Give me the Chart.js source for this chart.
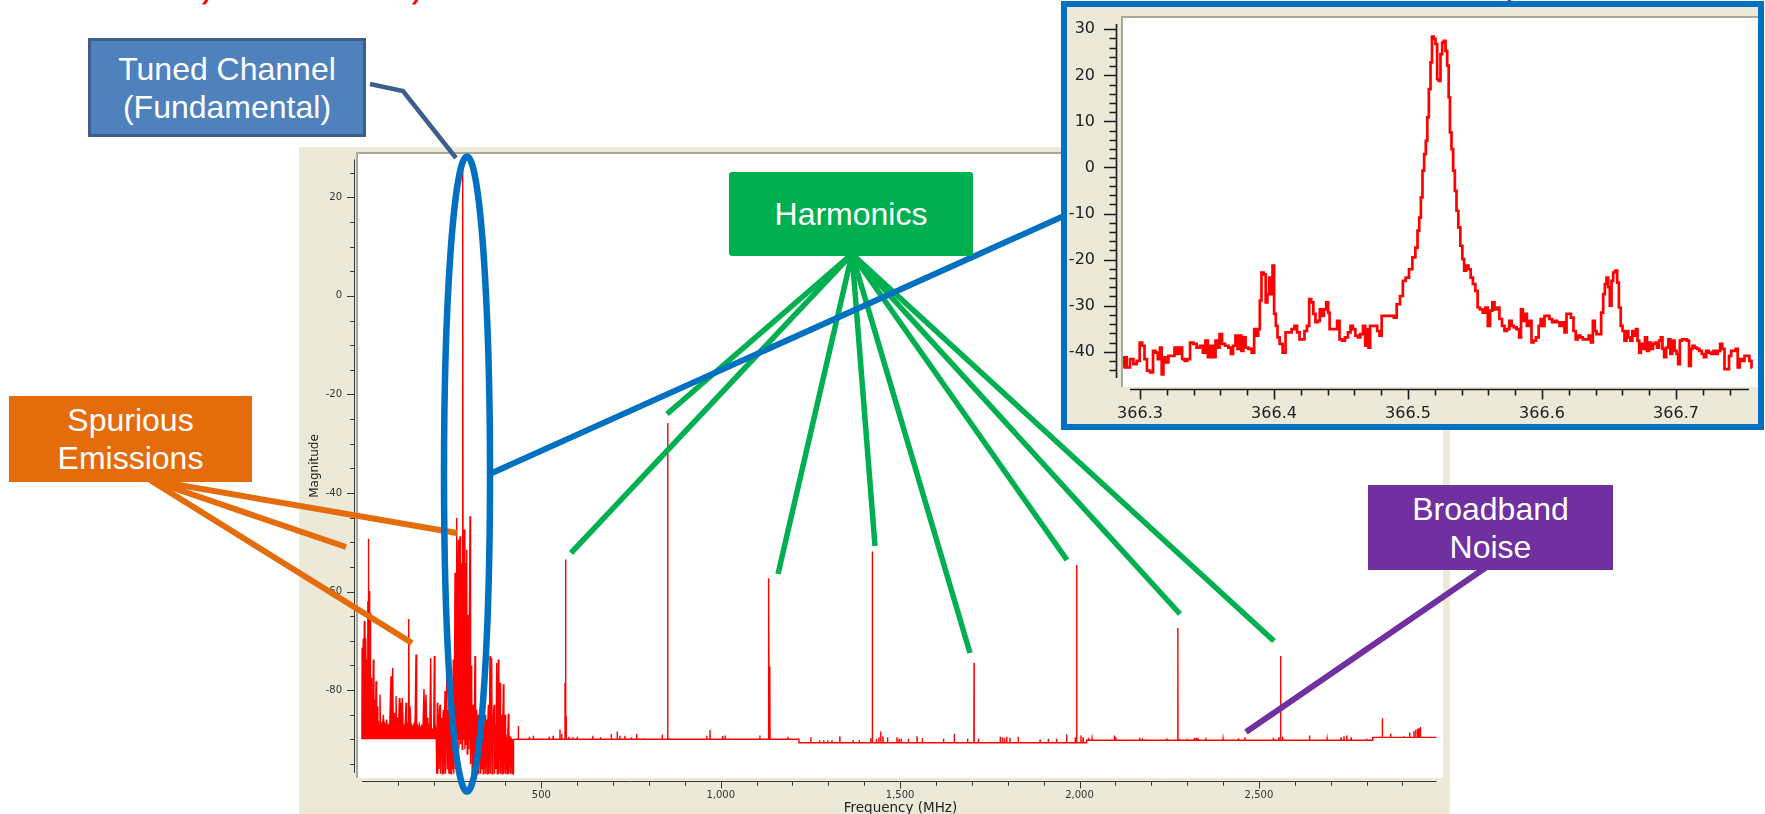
<!DOCTYPE html>
<html><head><meta charset="utf-8">
<script src="https://cdn.jsdelivr.net/npm/chart.js@4.4.1/dist/chart.umd.min.js"></script>
<style>
html,body{margin:0;padding:0;overflow:hidden;}
body{width:1765px;height:814px;position:relative;background:#fff;font-family:"Liberation Sans",Arial,sans-serif;}
#mainPanel{position:absolute;left:299px;top:147px;width:1151px;height:672px;background:#ECE9D8;z-index:1;}
#mainPanel canvas{position:absolute;left:0;top:0;}
#ann{position:absolute;left:0;top:0;z-index:2;}
.box{position:absolute;display:flex;flex-direction:column;align-items:center;justify-content:center;color:#fff;font-size:32px;line-height:38px;text-align:center;box-sizing:border-box;z-index:3;white-space:nowrap;}
#inset{position:absolute;left:1061px;top:1px;width:703px;height:429px;border:6px solid #0070C0;box-sizing:border-box;background:#ECE9D8;z-index:4;}
#inset canvas{position:absolute;left:0;top:0;}
</style></head><body>

<div id="mainPanel"><canvas id="mainC" width="1151" height="672"></canvas></div>

<svg id="ann" width="1765" height="814" xmlns="http://www.w3.org/2000/svg">
  <g fill="#FF0000">
    <polygon points="205,0 208.5,0 205.5,4.5 202,4.5"/>
    <polygon points="415,0 418.5,0 415.5,4.5 412,4.5"/>
    <polygon points="1508,0 1511,0 1510,2 1507,2"/>
  </g>
  <polyline points="370,84 403,91 456,158" stroke="#3B5E8C" stroke-width="4.5" fill="none"/>
  <g stroke="#00B050" stroke-width="5.5" fill="none">
    <line x1="852" y1="254" x2="571" y2="553"/>
    <line x1="852" y1="254" x2="667" y2="414"/>
    <line x1="852" y1="254" x2="778" y2="574"/>
    <line x1="852" y1="254" x2="875" y2="546"/>
    <line x1="852" y1="254" x2="970" y2="653"/>
    <line x1="852" y1="254" x2="1067" y2="560"/>
    <line x1="852" y1="254" x2="1180" y2="614"/>
    <line x1="852" y1="254" x2="1274" y2="641"/>
  </g>
  <g stroke="#E46C0A" stroke-width="6" fill="none">
    <line x1="150" y1="480" x2="457" y2="533"/>
    <line x1="150" y1="480" x2="346" y2="547"/>
    <line x1="150" y1="480" x2="412" y2="643"/>
  </g>
  <line x1="1488" y1="566" x2="1246" y2="732" stroke="#7030A0" stroke-width="6"/>
  <ellipse cx="467" cy="474" rx="23" ry="317.5" stroke="#0070C0" stroke-width="6.5" fill="none"/>
  <line x1="492" y1="473" x2="1066" y2="215" stroke="#0070C0" stroke-width="6"/>
</svg>

<div class="box" style="left:88px;top:38px;width:278px;height:99px;background:#4F81BD;border:3px solid #3B5E8C;"><div>Tuned Channel</div><div>(Fundamental)</div></div>
<div class="box" style="left:729px;top:172px;width:244px;height:84px;background:#00B050;border-radius:3px;"><div>Harmonics</div></div>
<div class="box" style="left:9px;top:396px;width:243px;height:86px;background:#E46C0A;"><div>Spurious</div><div>Emissions</div></div>
<div class="box" style="left:1368px;top:485px;width:245px;height:85px;background:#7030A0;"><div>Broadband</div><div>Noise</div></div>

<div id="inset"><canvas id="insetC" width="691" height="417"></canvas></div>

<script>
// ---------------- DATA ----------------
// Main spectrum, 0-208 MHz: spurious emissions above a ~-88 dB floor  [MHz, dB]
const spurTrace = [[0,-90],[0.5,-71.4],[2,-74],[4,-69.6],[5.5,-76],[6.8,-66.0],[8.5,-75],[10.5,-69.4],[12,-78],[13.3,-73.8],[15,-80],[16.5,-62],[17.3,-72],[18,-49.3],[19,-74],[20.7,-59.9],[21.6,-76],[22.6,-64.3],[24,-80],[25.4,-77.5],[27,-84],[29,-81.9],[30.5,-85],[31.9,-73.8],[33.5,-86],[36.5,-81.9],[38,-86],[39.3,-78.2],[41,-87],[43,-83.3],[44.5,-87.5],[45.8,-86.3],[48,-88],[50.4,-80.9],[52,-88],[55.1,-87.0],[57,-88],[59.7,-85.0],[62,-88],[64.4,-87.0],[67,-88.3],[69,-86.0],[71,-88.3],[73.7,-87.3],[77,-88.3],[81.1,-77.2],[83,-88],[85.8,-75.5],[87.5,-88],[90.4,-84.6],[92.5,-88],[95,-81.2],[97,-88],[99.7,-85.6],[102,-88],[104.3,-81.6],[106,-88],[108,-82.6],[110,-88],[112.7,-81.6],[115,-88],[117.3,-87.0],[120,-88],[122.9,-82.6],[125,-88],[126.6,-87.0],[128.5,-88],[130.3,-65.6],[132,-88],[134,-83.3],[137,-88],[139.6,-87.3],[142,-88],[145.2,-87.0],[148,-88],[150.8,-72.8],[152.5,-88],[154.5,-87.3],[157,-88.3],[160,-87.0],[163,-88.3],[166.6,-87.3],[170,-88.3],[173,-79.8],[175,-88],[178.6,-80.9],[180.5,-88],[182.4,-85.6],[184,-88],[186,-87.3],[189,-88.3],[191.7,-73.5],[193.5,-88.5],[197.2,-88.0],[200,-88.5],[201.9,-73.1],[203.5,-88.5],[204.7,-87.3],[207,-88.5],[208.2,-90]];
// Main spectrum, 208-423 MHz: dense band around the tuned channel  [MHz, dB]
const fundTrace = [[209,-97],[210,-82.6],[211.5,-97],[213,-85],[214.5,-96],[216,-84],[217.7,-83],[219,-97],[220.5,-86],[222.3,-85.6],[224,-97],[225.5,-86],[227,-84],[228.5,-97],[230,-87],[231.6,-80.2],[233,-97],[234.5,-86],[236.3,-73.8],[238,-96],[239.5,-87],[240.9,-84],[242.3,-97],[243.7,-82],[245.5,-97],[247.4,-86],[248.8,-97],[250.2,-84.6],[251.5,-96],[253,-85],[254.8,-73.8],[256.2,-97],[257.8,-80],[259.5,-56.2],[261,-96],[262.5,-70],[264.1,-45.1],[265.5,-90],[267,-62],[268.8,-49.5],[270.2,-92],[271.8,-60],[273.4,-48.8],[275,-91],[276.5,-66],[278.1,-54.2],[279.5,-92],[280.9,28],[282.3,-90],[284,-70],[285.5,-47.4],[287,-92],[289.2,-54.2],[290.5,-91],[292,-51.5],[293.5,-93],[295,-70],[296.6,-64.7],[298,-92],[299.5,-66],[301.3,-44.7],[302.8,-95],[304.3,-75],[305.9,-79.2],[307.3,-97],[309,-84],[310.6,-83],[312,-97],[313.6,-85],[315.2,-73.1],[316.8,-97],[318.3,-85],[319.9,-84],[321.4,-97],[323,-86],[324.5,-85],[326,-97],[327.6,-87],[329.2,-86.7],[331,-97],[333,-87],[334.8,-96],[336.6,-83],[338.3,-97],[340,-87],[341.5,-96],[343.1,-85],[344.7,-97],[346.2,-87],[347.7,-86],[349.3,-97],[350.8,-87],[352.4,-83],[354,-97],[355.5,-86],[357,-73.1],[358.5,-97],[360,-85],[361.7,-73.5],[363.3,-97],[365,-87],[366.6,-85],[368.2,-83],[369.8,-97],[371.5,-87],[373.5,-96],[375.6,-74.5],[377.2,-97],[378.7,-86],[380.2,-73.8],[381.8,-97],[383.3,-87],[384.9,-78.5],[386.5,-97],[388,-88],[389.5,-85],[391,-97],[392.6,-88],[394.2,-78.8],[395.8,-97],[397.3,-88],[398.8,-85],[400.4,-97],[402,-89],[403.5,-89],[405,-97],[406.6,-89],[408.1,-84.8],[409.7,-97],[411.2,-89.5],[412.8,-89.5],[414.3,-97],[415.9,-89.7],[417.4,-89.7],[419,-97],[420.5,-90],[422,-97],[422.5,-90]];
// Noise floor above 423 MHz: [start MHz, end MHz, level dB]
const floorSegments = [[422.5,1218,-90.0],[1218,2020,-90.7],[2020,2817,-90.2],[2817,2995,-89.6]];
// Harmonics of the tuned channel
const harmFreq = [567.8, 852.3, 1134.5, 1422.6, 1706, 1992, 2274, 2560.6, 2844];
const harmMag  = [-53.5, -25.8, -57.3, -51.9, -74.5, -54.6, -67.4, -73.1, -85.7];
// Small spurs on the broadband noise floor  [MHz, dB]
const noiseSpurs = [[436,-87.3],[466.6,-89.5],[477.7,-89.3],[522,-89.5],[533,-89.3],[552,-88.0],[556.8,-88.9],[566,-78.5],[569,-85.2],[577,-89.5],[588,-89.6],[600,-89.5],[643.7,-89.3],[665,-89.6],[695,-88.9],[711.5,-88.4],[719,-89.3],[733,-89.3],[751,-89.6],[765.5,-88.9],[788,-89.8],[837,-89.0],[857,-89.8],[961,-89.3],[970,-88.1],[1005,-89.3],[1012.6,-89.2],[1109,-89.2],[1132.4,-84.4],[1137,-75.2],[1187,-89.5],
 [1251,-89.6],[1276,-90.2],[1287,-90.2],[1298,-90.2],[1310,-90.2],[1332,-89.4],[1369,-90.2],[1386,-90.2],[1418,-89.8],[1434,-89.9],[1441,-89.6],[1446,-88.4],[1452,-89.4],[1465,-89.6],[1491,-89.6],[1497,-89.9],[1503,-89.9],[1523,-89.9],[1547,-89.4],[1562,-89.8],[1621,-89.9],[1651,-88.9],[1688,-89.9],[1718,-89.9],[1779,-89.5],[1785,-89.6],[1791,-89.8],[1797,-89.5],[1806,-89.7],[1829,-89.5],[1890,-90.1],[1913,-89.9],[1936,-89.9],[1964,-89.0],[1988,-89.6],[2004,-89.2],[2010,-89.6],
 [2025,-89.7],[2035,-89.9],[2097,-89.2],[2101,-89.6],[2168,-89.7],[2175,-89.8],[2243,-89.8],[2279,-89.9],[2299,-89.9],[2320,-89.7],[2325,-89.7],[2330,-89.7],[2352,-89.7],[2400,-89.9],[2443,-89.8],[2461,-89.6],[2540,-89.7],[2556,-89.6],[2566,-89.5],[2641,-89.2],[2690,-89.9],[2729,-89.6],[2737,-89.4],[2745,-89.2],[2757,-89.6],[2800,-89.9],
 [2867,-88.8],[2905,-89.4],[2920,-88.6],[2932,-88.3],[2937,-88.0],[2942,-87.9],[2946,-87.7],[2950,-87.5]];
// Inset: zoom on the tuned channel  [MHz, dB]
const insetTrace = [[366.2876,-43.4],[366.2888,-41.2],[366.2913,-43.4],[366.2938,-41.6],[366.2963,-42.7],[366.2988,-42.0],[366.3007,-38.0],[366.3025,-38.7],[366.3042,-41.6],[366.3062,-44.1],[366.3087,-44.5],[366.3107,-39.8],[366.3124,-40.2],[366.3142,-41.6],[366.3157,-39.1],[366.3167,-44.9],[366.3182,-41.2],[366.3199,-42.3],[366.3224,-40.9],[366.3249,-40.9],[366.3266,-39.1],[366.3286,-40.5],[366.3306,-39.1],[366.3323,-41.6],[366.3343,-42.0],[366.3361,-41.6],[366.3386,-38.0],[366.3410,-38.3],[366.3435,-39.1],[366.3460,-38.7],[366.3478,-40.2],[366.3498,-37.6],[366.3515,-41.2],[366.3535,-38.7],[366.3555,-41.2],[366.3572,-37.6],[366.3585,-39.1],[366.3602,-36.2],[366.3622,-38.3],[366.3647,-38.7],[366.3672,-39.1],[366.3684,-40.5],[366.3704,-38.7],[366.3721,-36.5],[366.3734,-39.4],[366.3749,-36.5],[366.3764,-39.8],[366.3779,-36.9],[366.3796,-39.1],[366.3821,-39.4],[366.3846,-40.2],[366.3858,-35.1],[366.3876,-36.5],[366.3888,-35.1],[366.3900,-28.9],[366.3913,-22.8],[366.3933,-23.2],[366.3943,-29.3],[366.3958,-27.5],[366.3970,-23.9],[366.3983,-27.5],[366.3995,-21.3],[366.4007,-31.8],[366.4020,-34.4],[366.4032,-36.9],[366.4052,-38.3],[366.4077,-40.2],[366.4095,-35.8],[366.4119,-35.8],[366.4144,-35.1],[366.4162,-34.4],[366.4182,-35.8],[366.4199,-37.3],[366.4219,-37.3],[366.4236,-35.5],[366.4256,-34.4],[366.4269,-28.6],[366.4286,-29.3],[366.4301,-31.8],[366.4318,-33.6],[366.4336,-33.3],[366.4348,-30.8],[366.4363,-32.2],[366.4381,-30.8],[366.4398,-29.3],[366.4410,-31.5],[366.4420,-35.1],[366.4443,-35.1],[366.4463,-35.1],[366.4480,-33.3],[366.4498,-37.3],[366.4517,-37.6],[366.4542,-36.9],[366.4562,-35.8],[366.4580,-34.4],[366.4597,-35.1],[366.4617,-36.5],[366.4634,-36.9],[366.4654,-36.2],[366.4674,-34.4],[366.4687,-38.7],[366.4699,-35.1],[366.4711,-39.1],[366.4724,-34.4],[366.4741,-34.4],[366.4761,-34.4],[366.4779,-35.5],[366.4796,-36.5],[366.4811,-32.2],[366.4836,-32.2],[366.4866,-32.2],[366.4886,-32.2],[366.4903,-32.6],[366.4928,-29.7],[366.4953,-27.9],
[366.4970,-24.6],[366.4995,-23.9],[366.5020,-22.1],[366.5045,-19.5],[366.5065,-17.4],[366.5077,-13.7],[366.5090,-10.9],[366.5102,-6.5],[366.5114,-0.7],[366.5127,2.9],[366.5139,5.8],[366.5149,10.9],[366.5162,17.0],[366.5174,22.8],[366.5184,28.4],[366.5199,27.9],[366.5211,26.8],[366.5224,19.2],[366.5236,18.8],[366.5249,24.6],[366.5261,27.1],[366.5274,27.5],[366.5286,25.3],[366.5299,22.1],[366.5308,15.2],[366.5318,7.6],[366.5331,4.0],[366.5343,-0.7],[366.5356,-5.1],[366.5368,-9.4],[366.5383,-13.0],[366.5398,-17.0],[366.5413,-19.9],[366.5425,-22.4],[366.5443,-21.3],[366.5460,-22.1],[366.5475,-23.9],[366.5493,-25.3],[366.5512,-26.8],[366.5527,-30.4],[366.5547,-30.8],[366.5567,-31.5],[366.5587,-30.4],[366.5604,-34.4],[366.5622,-31.1],[366.5637,-29.3],[366.5654,-30.8],[366.5672,-30.4],[366.5692,-32.9],[366.5711,-34.4],[366.5729,-35.5],[366.5746,-35.1],[366.5766,-33.3],[366.5781,-34.4],[366.5799,-34.7],[366.5821,-35.1],[366.5838,-36.9],[366.5848,-30.8],[366.5866,-33.3],[366.5878,-31.8],[366.5896,-34.4],[366.5915,-33.3],[366.5928,-38.0],[366.5945,-37.6],[366.5965,-36.9],[366.5985,-34.4],[366.5995,-32.9],[366.6010,-34.4],[366.6027,-32.2],[366.6045,-32.2],[366.6065,-32.9],[366.6085,-33.6],[366.6104,-33.3],[366.6122,-33.6],[366.6139,-34.4],[366.6159,-33.6],[366.6177,-35.8],[366.6189,-31.8],[366.6206,-31.8],[366.6226,-32.6],[366.6244,-35.5],[366.6259,-37.3],[366.6276,-36.5],[366.6296,-36.9],[366.6313,-37.3],[366.6338,-37.3],[366.6358,-36.5],[366.6371,-38.0],[366.6388,-33.3],[366.6400,-35.5],[366.6413,-36.2],[366.6433,-36.2],[366.6450,-31.5],[366.6463,-27.5],[366.6475,-25.3],[366.6488,-23.9],[366.6500,-26.0],[366.6512,-30.0],[366.6525,-24.6],[366.6537,-22.8],[366.6555,-22.4],[366.6567,-25.0],[366.6580,-30.4],[366.6595,-34.4],[366.6607,-35.5],[366.6624,-37.6],[366.6637,-35.5],[366.6652,-36.9],[366.6667,-37.6],[366.6682,-35.5],[366.6697,-36.5],[366.6706,-35.1],[366.6719,-37.6],[366.6731,-40.2],[366.6744,-38.3],[366.6761,-39.4],[366.6776,-36.9],[366.6791,-39.8],[366.6806,-38.0],[366.6821,-39.4],[366.6836,-38.3],[366.6851,-38.0],[366.6866,-39.1],[366.6881,-37.6],[366.6893,-36.9],[366.6905,-39.4],[366.6918,-41.2],[366.6935,-39.1],[366.6950,-37.3],[366.6965,-40.5],[366.6980,-37.6],[366.6998,-39.8],[366.7010,-40.5],[366.7022,-42.7],[366.7035,-37.6],[366.7055,-37.3],[366.7072,-37.3],[366.7090,-37.6],[366.7104,-43.1],[366.7117,-39.4],[366.7129,-38.7],[366.7147,-39.1],[366.7164,-39.4],[366.7184,-39.8],[366.7201,-40.5],[366.7216,-41.2],[366.7234,-39.8],[366.7254,-40.2],[366.7271,-40.5],[366.7289,-39.8],[366.7303,-40.5],[366.7321,-39.8],[366.7338,-38.3],[366.7353,-39.4],[366.7371,-43.8],[366.7388,-43.8],[366.7403,-40.9],[366.7420,-39.8],[366.7438,-39.8],[366.7453,-39.4],[366.7468,-43.4],[366.7483,-41.6],[366.7502,-42.0],[366.7520,-40.9],[366.7537,-40.9],[366.7557,-42.0],[366.7570,-43.4]];
// Tick labels
const mainXTicks  = [500, 1000, 1500, 2000, 2500];
const mainYTicks  = [-80, -60, -40, -20, 0, 20];
const insetXTicks = [366.3, 366.4, 366.5, 366.6, 366.7];
const insetYTicks = [-40, -30, -20, -10, 0, 10, 20, 30];

// ---------------- build datasets ----------------
const lowPts = spurTrace.concat(fundTrace).map(p => ({x: p[0], y: p[1]}));
function floorAt(f) {
  for (const s of floorSegments) if (f >= s[0] && f < s[1]) return s[2];
  return floorSegments[floorSegments.length - 1][2];
}
const spikes = harmFreq.map((f, i) => [f, harmMag[i]]).concat(noiseSpurs).sort((a, b) => a[0] - b[0]);
const highPts = [];
// order key: segment end (0) before spike points (1) before segment start (2) at equal x
floorSegments.forEach(s => { highPts.push({x: s[0], y: s[2], o: 2}); highPts.push({x: s[1], y: s[2], o: 0}); });
spikes.forEach(sp => {
  const b = floorAt(sp[0]);
  highPts.push({x: sp[0] - 0.45, y: b, o: 1});
  highPts.push({x: sp[0], y: sp[1], o: 1});
  highPts.push({x: sp[0] + 0.45, y: b, o: 1});
});
highPts.sort((a, b) => a.x - b.x || a.o - b.o);
const highData = highPts.map(p => ({x: p.x, y: p.y}));
const insetPts = insetTrace.map(p => ({x: p[0], y: p[1]}));

// ---------------- plugin: XP-style frame, detached axes with minor ticks ----------------
const frameAxes = {
  id: 'frameAxes',
  beforeDraw(chart, args, o) {
    const {ctx, chartArea: ca} = chart;
    ctx.save();
    ctx.fillStyle = '#FFFFFF';
    ctx.fillRect(ca.left, ca.top, ca.right - ca.left, ca.bottom - ca.top);
    ctx.strokeStyle = o.frameColor; ctx.lineWidth = 2;
    ctx.beginPath();
    ctx.moveTo(ca.left - 2, ca.top - 1); ctx.lineTo(ca.right, ca.top - 1);
    ctx.moveTo(ca.left - 1, ca.top - 2); ctx.lineTo(ca.left - 1, ca.bottom);
    ctx.stroke();
    ctx.restore();
  },
  afterDraw(chart, args, o) {
    const {ctx, chartArea: ca, scales: {x, y}} = chart;
    ctx.save();
    ctx.strokeStyle = o.color; ctx.lineWidth = o.width;
    const ax = Math.round(ca.left - o.yGap) + 0.5, ay = Math.round(ca.bottom + o.xGap) + 0.5;
    ctx.beginPath();
    ctx.moveTo(ax, y.getPixelForValue(o.yAxis[0])); ctx.lineTo(ax, y.getPixelForValue(o.yAxis[1]));
    for (let i = 0; ; i++) {
      const v = o.yMinor[0] + i * o.yMinor[2];
      if (v > o.yMinor[1] + 1e-9) break;
      const r = (v - o.yMajorBase) / o.yMajorStep, major = Math.abs(r - Math.round(r)) < 1e-6;
      const py = Math.round(y.getPixelForValue(v)) + 0.5;
      ctx.moveTo(ax - (major ? o.yMajorLen : o.yMinorLen), py); ctx.lineTo(ax, py);
    }
    ctx.moveTo(x.getPixelForValue(o.xAxis[0]), ay); ctx.lineTo(x.getPixelForValue(o.xAxis[1]), ay);
    for (let i = 0; ; i++) {
      const v = o.xMinor[0] + i * o.xMinor[2];
      if (v > o.xMinor[1] + 1e-9) break;
      const r = (v - o.xMajorBase) / o.xMajorStep, major = Math.abs(r - Math.round(r)) < 1e-6;
      const px = Math.round(x.getPixelForValue(v)) + 0.5;
      ctx.moveTo(px, ay); ctx.lineTo(px, ay + (major ? o.xMajorLen : o.xMinorLen));
    }
    ctx.stroke();
    ctx.restore();
  }
};
function fixBox(size, isX) {
  return function (s) {
    if (isX) s.height = size; else s.width = size;
    s.paddingTop = 0; s.paddingBottom = 0; s.paddingLeft = 0; s.paddingRight = 0;
  };
}

// ---------------- main chart ----------------
new Chart(document.getElementById('mainC'), {
  type: 'line',
  data: { datasets: [
    { data: lowPts, borderColor: '#FF0000', backgroundColor: '#FF0000', borderWidth: 1.4, pointRadius: 0, tension: 0, fill: {value: -90} },
    { data: highData, borderColor: '#FF0000', borderWidth: 1.4, pointRadius: 0, tension: 0, fill: false }
  ]},
  options: {
    responsive: false, animation: false, devicePixelRatio: 1,
    layout: { padding: {left: 0, right: 7, top: 7, bottom: 0} },
    plugins: {
      legend: {display: false}, tooltip: {enabled: false},
      frameAxes: {
        frameColor: '#ACA899', color: '#3A3A3A', width: 1,
        yGap: 4, yAxis: [27.7, -96.8], yMinor: [-95, 25, 5], yMajorBase: 0, yMajorStep: 20, yMajorLen: 7.5, yMinorLen: 4.3,
        xGap: 3, xAxis: [0, 2995], xMinor: [100, 2900, 100], xMajorBase: 0, xMajorStep: 500, xMajorLen: 7, xMinorLen: 4.3
      }
    },
    scales: {
      x: {
        type: 'linear', min: -10.9, max: 3013,
        afterFit: fixBox(41, true),
        afterBuildTicks(s) { s.ticks = mainXTicks.map(v => ({value: v})); },
        grid: {display: false, drawTicks: false}, border: {display: false},
        ticks: {padding: 11, color: '#333', font: {family: 'DejaVu Sans', size: 10}, maxRotation: 0, autoSkip: false},
        title: {display: true, text: 'Frequency (MHz)', color: '#222', font: {family: 'DejaVu Sans', size: 13.5}, padding: {top: 0, bottom: 2.6}}
      },
      y: {
        type: 'linear', min: -97.85, max: 28.8,
        afterFit: fixBox(59, false),
        afterBuildTicks(s) { s.ticks = mainYTicks.map(v => ({value: v})); },
        grid: {display: false, drawTicks: false}, border: {display: false},
        ticks: {padding: 16, color: '#333', font: {family: 'DejaVu Sans', size: 10}, autoSkip: false},
        title: {display: true, text: 'Magnitude', color: '#222', font: {family: 'DejaVu Sans', size: 12}, padding: {top: 8.8, bottom: 0}}
      }
    }
  },
  plugins: [frameAxes]
});

// ---------------- inset chart ----------------
new Chart(document.getElementById('insetC'), {
  type: 'line',
  data: { datasets: [
    { data: insetPts, borderColor: '#FF0000', borderWidth: 2.7, pointRadius: 0, tension: 0, stepped: 'middle', fill: false }
  ]},
  options: {
    responsive: false, animation: false, devicePixelRatio: 1,
    layout: { padding: {left: 0, right: 0, top: 11, bottom: 0} },
    plugins: {
      legend: {display: false}, tooltip: {enabled: false},
      frameAxes: {
        frameColor: '#ACA899', color: '#1A1A1A', width: 1.6,
        yGap: 7, yAxis: [31.15, -45.7], yMinor: [-44, 30, 2], yMajorBase: 0, yMajorStep: 10, yMajorLen: 12.5, yMinorLen: 7,
        xGap: 2.3, xAxis: [366.2925, 366.7545], xMinor: [366.30, 366.74, 0.02], xMajorBase: 366.3, xMajorStep: 0.1, xMajorLen: 10, xMinorLen: 6
      }
    },
    scales: {
      x: {
        type: 'linear', min: 366.28731, max: 366.76119,
        afterFit: fixBox(37, true),
        afterBuildTicks(s) { s.ticks = insetXTicks.map(v => ({value: v})); },
        grid: {display: false, drawTicks: false}, border: {display: false},
        ticks: {padding: 17, color: '#222', font: {family: 'DejaVu Sans', size: 16}, maxRotation: 0, autoSkip: false, callback: v => Number(v).toFixed(1)}
      },
      y: {
        type: 'linear', min: -47.66, max: 32.45,
        afterFit: fixBox(56, false),
        afterBuildTicks(s) { s.ticks = insetYTicks.map(v => ({value: v})); },
        grid: {display: false, drawTicks: false}, border: {display: false},
        ticks: {padding: 28, color: '#222', font: {family: 'DejaVu Sans', size: 16}, autoSkip: false}
      }
    }
  },
  plugins: [frameAxes]
});
</script>
</body></html>
